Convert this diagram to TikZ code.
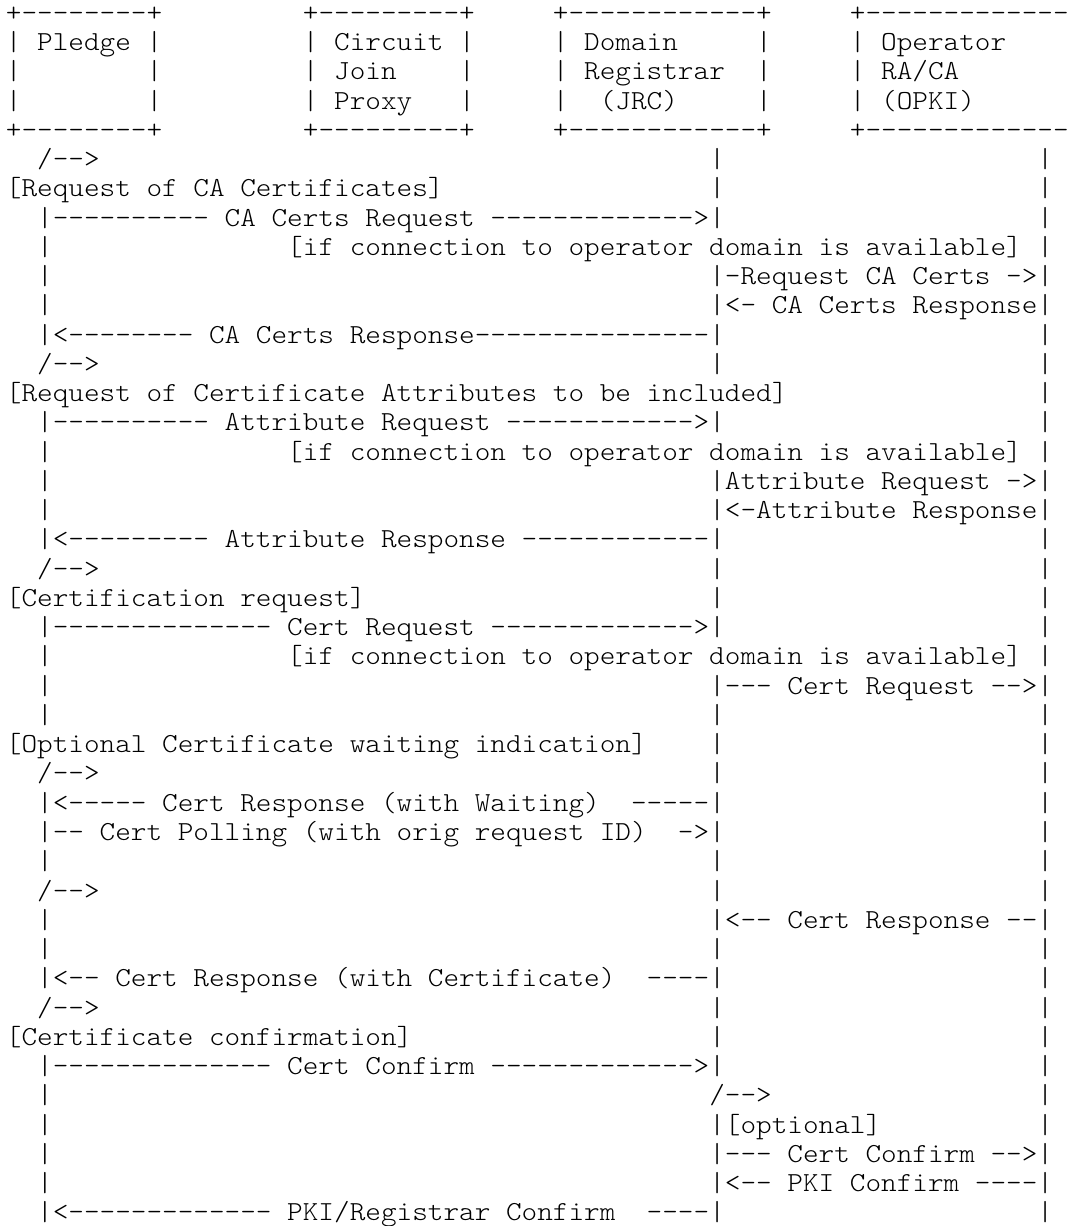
\documentclass[tikz,border=0pt]{standalone}
\usepackage{graphicx}
\usepackage{fontspec}
\setmonofont{Latin Modern Mono Light}
% one character cell: 15.63pt wide, 29.25pt high; glyphs widened to fill the cell
\newcommand\asc[3]{\node[ascii] (r#1c#2) at (#2,#1) {\scalebox{1.0826}[1]{#3}};}
\begin{document}
\frenchspacing
\begin{tikzpicture}[x=15.63pt,y=-29.25pt,
  ascii/.style={anchor=base west,inner sep=0pt,outer sep=0pt,
    font=\ttfamily\fontsize{27.5pt}{29.25pt}\selectfont}]
\useasboundingbox (0,0) rectangle (68.266,41.915);
\fill[white] (0,0) rectangle (68.266,41.915);
\clip (0,0) rectangle (68.266,41.915);
\begin{scope}[shift={(0.3775,0.735)}]
% ---- participant boxes ----
\foreach \r in {0,4}{
  \asc{\r}{0}{+--------+}
  \asc{\r}{19}{+---------+}
  \asc{\r}{35}{+------------+}
  \asc{\r}{54}{+-------------}
}
\asc{1}{0}{| Pledge |}
\asc{1}{19}{| Circuit |}
\asc{1}{35}{| Domain}
\asc{1}{54}{| Operator}
\asc{2}{19}{| Join}
\asc{2}{35}{| Registrar}
\asc{2}{54}{| RA/CA}
\asc{3}{19}{| Proxy}
\asc{3}{35}{|}
\asc{3}{38}{(JRC)}
\asc{3}{54}{| (OPKI)}
\foreach \r in {2,3}{
  \asc{\r}{0}{|}
  \asc{\r}{9}{|}
  \asc{\r}{29}{|}
}
\asc{1}{48}{|}
\asc{2}{48}{|}
\asc{3}{48}{|}
% ---- lifelines ----
\foreach \r in {7,8,9,10,11,14,15,16,17,18,21,22,23,24,27,28,29,31,32,33,36,37,38,39,40,41}
  {\asc{\r}{2}{|}}
\foreach \r in {5,6,7,9,10,11,12,14,16,17,18,19,20,21,23,24,25,26,27,28,29,30,31,32,33,34,35,36,38,39,40,41}
  {\asc{\r}{45}{|}}
\foreach \r in {5,...,41}
  {\asc{\r}{66}{|}}
% ---- CA certificates ----
\asc{5}{2}{/-->}
\asc{6}{0}{[Request of CA Certificates]}
\asc{7}{3}{---------- CA Certs Request ------------->}
\asc{8}{18}{[if connection to operator domain is available]}
\asc{9}{46}{-Request CA Certs ->}
\asc{10}{46}{<- CA Certs Response}
\asc{11}{3}{<-------- CA Certs Response---------------}
% ---- certificate attributes ----
\asc{12}{2}{/-->}
\asc{13}{0}{[Request of Certificate Attributes to be included]}
\asc{14}{3}{---------- Attribute Request ------------>}
\asc{15}{18}{[if connection to operator domain is available]}
\asc{16}{46}{Attribute Request ->}
\asc{17}{46}{<-Attribute Response}
\asc{18}{3}{<--------- Attribute Response ------------}
% ---- certification request ----
\asc{19}{2}{/-->}
\asc{20}{0}{[Certification request]}
\asc{21}{3}{-------------- Cert Request ------------->}
\asc{22}{18}{[if connection to operator domain is available]}
\asc{23}{46}{--- Cert Request -->}
% ---- waiting indication ----
\asc{25}{0}{[Optional Certificate waiting indication]}
\asc{26}{2}{/-->}
\asc{27}{3}{<----- Cert Response (with Waiting)}
\asc{27}{40}{-----}
\asc{28}{3}{-- Cert Polling (with orig request ID)}
\asc{28}{43}{->}
\asc{30}{2}{/-->}
\asc{31}{46}{<-- Cert Response --}
\asc{33}{3}{<-- Cert Response (with Certificate)}
\asc{33}{41}{----}
% ---- confirmation ----
\asc{34}{2}{/-->}
\asc{35}{0}{[Certificate confirmation]}
\asc{36}{3}{-------------- Cert Confirm ------------->}
\asc{37}{45}{/-->}
\asc{38}{46}{[optional]}
\asc{39}{46}{--- Cert Confirm -->}
\asc{40}{46}{<-- PKI Confirm ----}
\asc{41}{3}{<------------- PKI/Registrar Confirm}
\asc{41}{41}{----}
\end{scope}
\end{tikzpicture}
\end{document}
